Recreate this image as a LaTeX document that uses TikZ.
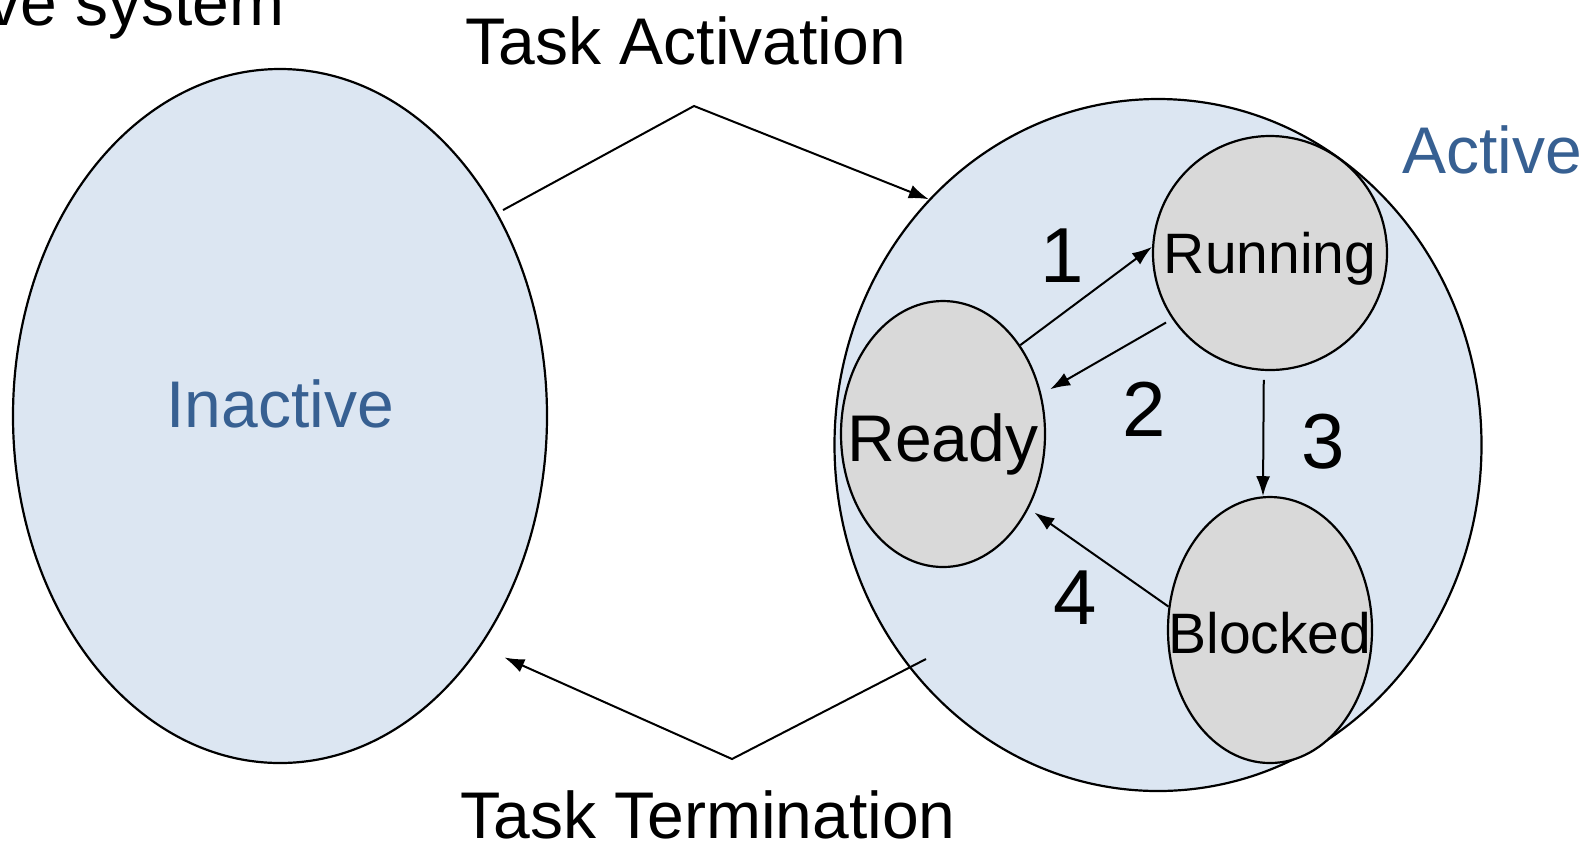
\documentclass[tikz,border=0pt]{standalone}
\usepackage{fontspec}
\setmainfont{Liberation Sans}
\usetikzlibrary{shapes.geometric,arrows.meta}
\definecolor{setblue}{HTML}{DCE6F2}
\definecolor{settext}{HTML}{376092}
\definecolor{stategray}{HTML}{D9D9D9}

\begin{document}
\begin{tikzpicture}[x=0.5pt,y=-0.5pt]
    \tikzstyle{setnode}=[ellipse,draw,line width=1.1pt,fill=setblue,inner sep=0pt]
    \tikzstyle{statenode}=[ellipse,draw,line width=1.1pt,fill=stategray,inner sep=0pt]
    \tikzstyle{marrs}=[line width=1pt,-{Latex[length=10pt,width=7pt]}]
    \tikzstyle{bigtxt}=[font=\fontsize{33}{40}\selectfont,inner sep=0pt,anchor=base]
    \tikzstyle{midtxt}=[font=\fontsize{28.5}{34}\selectfont,inner sep=0pt,anchor=base]
    \tikzstyle{numtxt}=[font=\fontsize{39}{46}\selectfont,inner sep=0pt,anchor=base]

    \useasboundingbox (0,0) rectangle (1595,848);

    \begin{scope}

        % the two sets
        \node[setnode,minimum width=267pt,minimum height=347pt] (inactive) at (280,416) {};
        \node[setnode,minimum width=323.5pt,minimum height=346pt] (active) at (1158,445) {};

        % states inside the active set
        \node[statenode,minimum width=102pt,minimum height=133pt] (ready) at (943,434) {};
        \node[statenode,minimum width=117pt,minimum height=117pt] (running) at (1270,253) {};
        \node[statenode,minimum width=102pt,minimum height=133pt] (blocked) at (1270,630) {};

        { \color{settext}
            \node[bigtxt] (inactivetxt) at (280,427) {Inactive};
            \node[bigtxt,anchor=base west] (activetxt) at (1402,173) {Active};
        }
        \node[bigtxt] (readytxt) at (943,461) {Ready};
        \node[midtxt] (runningtxt) at (1270,273) {Running};
        \node[midtxt] (blockedtxt) at (1270,653) {Blocked};

        % transitions
        \draw[marrs] (ready.49) -- (running.177);
        \draw[marrs,shorten <=3.5pt,shorten >=5pt] (running.214) -- (ready.22);
        \draw[marrs,shorten <=4.5pt] (running.267) -- (blocked.93);
        \draw[marrs,shorten >=3.5pt] (blocked.167) -- (ready.319);

        \foreach \n/\x/\y in {1/1062/282, 2/1144/436, 3/1323/468, 4/1075/624} {
            \node[numtxt] (num\n) at (\x,\y) {\n};
        }

        % activation and termination
        \coordinate (actpeak) at (694,106);
        \coordinate (termstart) at (926,659);
        \coordinate (termpeak) at (732,759);
        \draw[marrs,shorten <=3pt] (inactive.43) -- (actpeak) -- (active.133);
        \draw[marrs,shorten >=13pt] (termstart) -- (termpeak) -- (inactive.-49);

        \node[bigtxt] (acttxt) at (686,64) {Task Activation};
        \node[bigtxt] (termtxt) at (708,838) {Task Termination};
        \node[bigtxt,anchor=base east] (systxt) at (285,25) {ve system};

    \end{scope}

\end{tikzpicture}
\end{document}
